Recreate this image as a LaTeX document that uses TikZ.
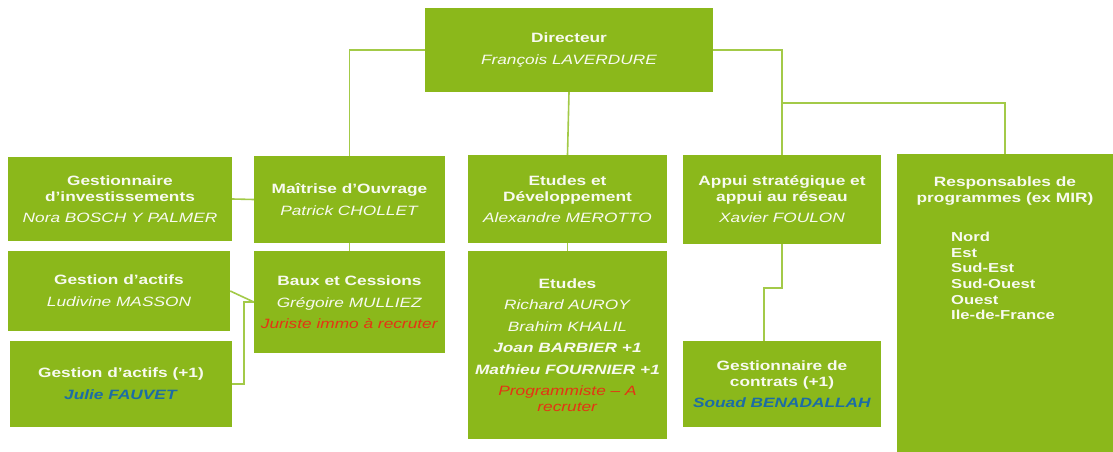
\documentclass[tikz,border=0pt]{standalone}
\usepackage{fontspec}
\setmainfont{Liberation Sans}[FakeStretch=1.28]
\definecolor{boxg}{RGB}{139,184,27}
\definecolor{lineg}{RGB}{163,202,72}
\definecolor{redt}{RGB}{228,52,20}
\definecolor{bluet}{RGB}{28,108,165}
\definecolor{txtw}{RGB}{248,250,240}
\tikzset{
  box/.style={fill=boxg, draw=none, inner sep=0pt, text=txtw, align=center,
    font=\fontsize{13.5}{16}\selectfont},
  conn/.style={draw=lineg, line width=1.6pt},
}
\begin{document}
\begin{tikzpicture}[x=1pt,y=-1pt]
\useasboundingbox[fill=white] (0,0) rectangle (1113,452);
% boxes
\node[box, minimum width=288pt, minimum height=84pt] (dir) at (569,50)
  {\textbf{Directeur}\\[6pt]\textit{François LAVERDURE}};
\node[box, minimum width=224pt, minimum height=84pt] (inv) at (120,199)
  {\textbf{Gestionnaire}\\\textbf{d’investissements}\\[5pt]\textit{Nora BOSCH Y PALMER}};
\node[box, minimum width=191pt, minimum height=87pt] (moa) at (349.5,199.5)
  {\textbf{Maîtrise d’Ouvrage}\\[6pt]\textit{Patrick CHOLLET}};
\node[box, minimum width=199pt, minimum height=88pt] (etd) at (567.5,199)
  {\textbf{Etudes et}\\\textbf{Développement}\\[5pt]\textit{Alexandre MEROTTO}};
\node[box, minimum width=198pt, minimum height=89pt] (app) at (782,199.5)
  {\textbf{Appui stratégique et}\\\textbf{appui au réseau}\\[5pt]\textit{Xavier FOULON}};
\node[box, minimum width=216pt, minimum height=298pt] (resp) at (1005,303) {};
\node[box, minimum width=222pt, minimum height=80pt] (act) at (119,291)
  {\textbf{Gestion d’actifs}\\[6pt]\textit{Ludivine MASSON}};
\node[box, minimum width=222pt, minimum height=86pt] (act1) at (121,384)
  {\textbf{Gestion d’actifs (+1)}\\[6pt]\textcolor{bluet}{\textbf{\textit{Julie FAUVET}}}};
\node[box, minimum width=191pt, minimum height=102pt] (baux) at (349.5,302)
  {\textbf{Baux et Cessions}\\[6pt]\textit{Grégoire MULLIEZ}\\[5pt]\textcolor{redt}{\textit{Juriste immo à recruter}}};
\node[box, minimum width=199pt, minimum height=188pt] (etu) at (567.5,345)
  {\textbf{Etudes}\\[5.5pt]\textit{Richard AUROY}\\[5.5pt]\textit{Brahim KHALIL}\\[5.5pt]\textbf{\textit{Joan BARBIER +1}}\\[5.5pt]\textbf{\textit{Mathieu FOURNIER +1}}\\[5.5pt]\textcolor{redt}{\textit{Programmiste – A}}\\\textcolor{redt}{\textit{recruter}}};
\node[box, minimum width=198pt, minimum height=86pt] (gc) at (782,384)
  {\textbf{Gestionnaire de}\\\textbf{contrats (+1)}\\[5pt]\textcolor{bluet}{\textbf{\textit{Souad BENADALLAH}}}};
% text of the tall box
\node[box, fill=none, anchor=north] (resph) at ([yshift=-23pt]resp.north)
  {\textbf{Responsables de}\\\textbf{programmes (ex MIR)}};
\node[box, fill=none, anchor=north west, align=left, font=\fontsize{13}{15.6}\selectfont\bfseries] (respl) at (951,232)
  {Nord\\Est\\Sud-Est\\Sud-Ouest\\Ouest\\Ile-de-France};
% connectors
\coordinate (j) at (781,103);
\draw[conn] (dir.west) -| (moa.north);
\draw[conn] (dir.south) -- (etd.north);
\draw[conn] (dir.east) -| (app.north);
\draw[conn] (j) -| (resp.north);
\draw[conn] (inv.east) -- (moa.west);
\draw[conn] (moa.south) -- (baux.north);
\draw[conn] (act.east) -- (baux.west);
\draw[conn] (baux.west) -- ++(-10,0) |- (act1.east);
\draw[conn] (etd.south) -- (etu.north);
\draw[conn] (app.south) -- ++(0,44) -| ([xshift=-18pt]gc.north);
\end{tikzpicture}
\end{document}
